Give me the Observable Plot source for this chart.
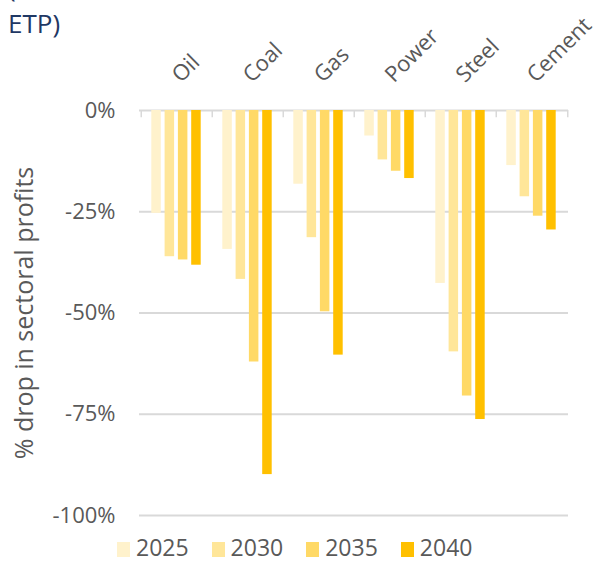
<!DOCTYPE html>
<html>
<head>
<meta charset="utf-8">
<script src="https://cdn.jsdelivr.net/npm/d3@7"></script>
<script src="https://cdn.jsdelivr.net/npm/@observablehq/plot@0.6"></script>
<style>
  html, body { margin: 0; padding: 0; background: #fff; }
  #wrap { position: relative; width: 595px; height: 561px; font-family: "Open Sans", sans-serif; }
  #chart { position: absolute; left: 0; top: 0; }
  .title { position: absolute; left: 8px; font-size: 26px; line-height: 26px; color: #1F3864; white-space: nowrap; }
  #legend { position: absolute; left: 117px; top: 534px; display: flex; align-items: center; font-size: 23px; line-height: 26px; color: #595959; }
  #legend .item { display: flex; align-items: center; margin-right: 23px; }
  #legend .sw { width: 13px; height: 15px; margin-right: 6px; position: relative; top: 2px; }
</style>
</head>
<body>
<div id="wrap">
  <div id="chart"></div>
  <div class="title" style="top:-26px">(</div>
  <div class="title" style="top:10px">ETP)</div>
  <div id="legend"></div>
</div>
<script>
// ---- data ----
const sectors = ["Oil", "Coal", "Gas", "Power", "Steel", "Cement"];
const years = ["2025", "2030", "2035", "2040"];
const drop2025 = [-25.4, -34.3, -18.2, -6.3, -42.7, -13.6];
const drop2030 = [-36.1, -41.7, -31.4, -12.2, -59.6, -21.3];
const drop2035 = [-36.9, -62.1, -49.7, -15.0, -70.5, -26.1];
const drop2040 = [-38.2, -89.9, -60.4, -16.8, -76.3, -29.5];
const yTicks = [0, -25, -50, -75, -100];
const yLabel = "% drop in sectoral profits";

const series = [drop2025, drop2030, drop2035, drop2040];
const colors = ["#FFF2CC", "#FFE699", "#FFD966", "#FFC000"];

const rows = [];
years.forEach((yr, i) => sectors.forEach((s, j) => rows.push({sector: s, year: yr, value: series[i][j]})));

// layout
const W = 595, H = 561, mL = 139, mR = 27, mT = 110, mB = 46;
const band = (W - mL - mR) / sectors.length;
const barW = 10, step = 13.3, off0 = 10.3;
const grid = "#D9D9D9", ink = "#595959";

const barMarks = years.map((yr, i) => {
  const left = off0 + step * i;
  return Plot.barY(rows.filter(r => r.year === yr), {
    x: "sector", y: "value", fill: "year",
    insetLeft: left, insetRight: band - left - barW
  });
});

const chart = Plot.plot({
  width: W, height: H,
  marginLeft: mL, marginRight: mR, marginTop: mT, marginBottom: mB,
  style: {fontFamily: "Open Sans, sans-serif", fontSize: "22px", color: ink, background: "transparent", overflow: "visible"},
  x: {domain: sectors, padding: 0, axis: null},
  y: {domain: [-100, 0], ticks: yTicks, tickFormat: d => d + "%", tickSize: 0, tickPadding: 24, label: null},
  color: {domain: years, range: colors},
  marks: [
    Plot.ruleY(yTicks, {stroke: grid, strokeWidth: 2}),
    Plot.ruleX(sectors, {x: d => d, y1: 0, y2: -1.8, dx: -band / 2, stroke: grid, strokeWidth: 1.5}),
    Plot.ruleX(sectors.slice(-1), {x: d => d, y1: 0, y2: -1.8, dx: band / 2, stroke: grid, strokeWidth: 1.5}),
    ...barMarks,
    Plot.text(sectors, {x: d => d, frameAnchor: "top", dy: -27, dx: 4, rotate: -45, textAnchor: "start", lineAnchor: "bottom", fontSize: 22, fill: ink}),
    Plot.text([yLabel], {frameAnchor: "left", dx: 24 - mL, rotate: -90, textAnchor: "middle", fontSize: 25, fill: ink})
  ]
});
document.getElementById("chart").appendChild(chart);

// legend
const leg = d3.select("#legend");
years.forEach((yr, i) => {
  const it = leg.append("div").attr("class", "item");
  it.append("span").attr("class", "sw").style("background", colors[i]);
  it.append("span").text(yr);
});
</script>
</body>
</html>
